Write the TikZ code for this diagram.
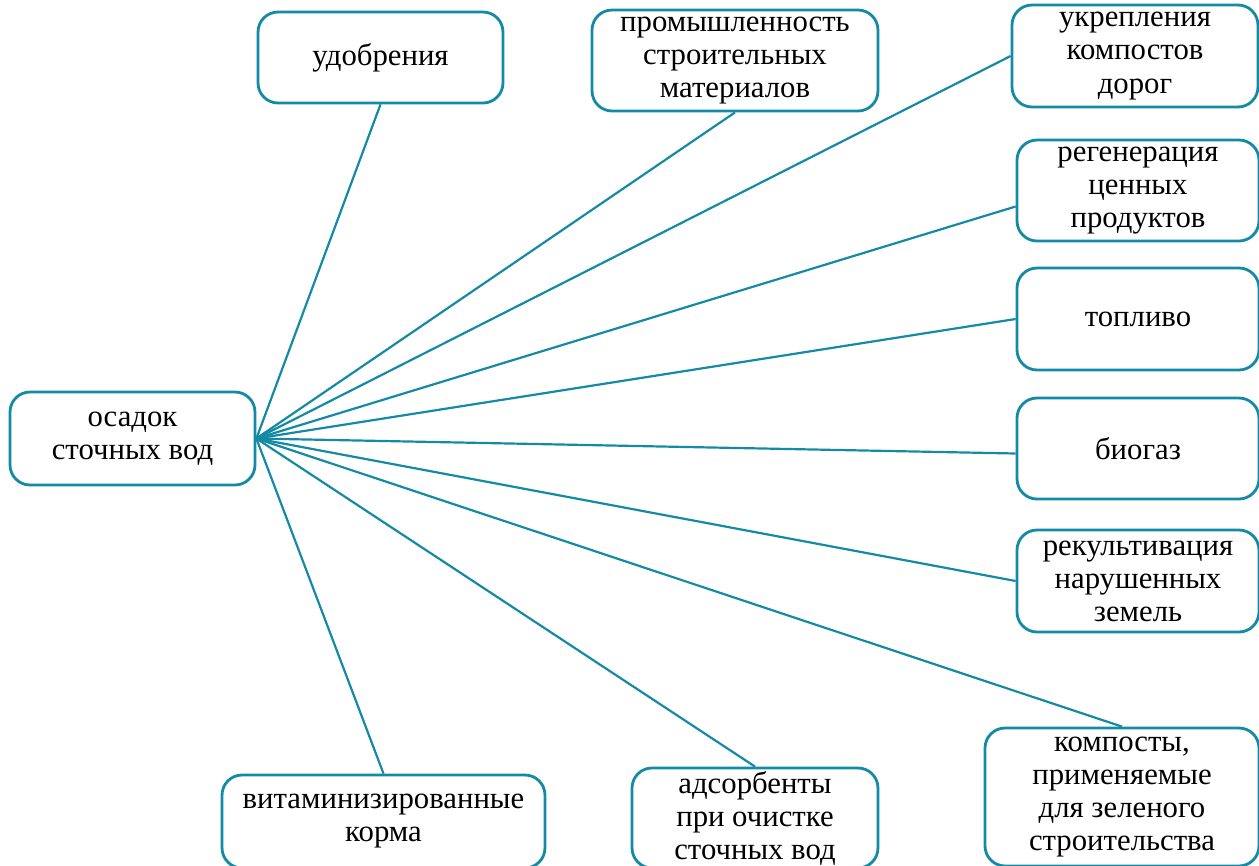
\documentclass[tikz,border=0pt]{standalone}
\usepackage{fontspec}
\setmainfont{Liberation Serif}
\definecolor{sludgeteal}{RGB}{20,138,164}

\begin{document}
\begin{tikzpicture}[x=0.02cm,y=-0.02cm,
    usebox/.style={draw=sludgeteal,line width=1.6pt,rounded corners=0.4cm,align=center,
      inner sep=0pt,font=\fontsize{17.5}{18.8}\selectfont},
    spoke/.style={draw=sludgeteal,line width=1.25pt}]
  \useasboundingbox (0,0) rectangle (1259,866);
  % source box and the uses around it
  \node[usebox,minimum width=4.9cm,minimum height=1.86cm] (sludge) at (132.5,438.5) {осадок\\сточных вод};
  \node[usebox,minimum width=4.9cm,minimum height=1.82cm] (fert) at (380.5,57.5) {удобрения};
  \node[usebox,minimum width=5.72cm,minimum height=2.02cm] (build) at (735,60.5) {промышленность\\строительных\\материалов};
  \node[usebox,minimum width=4.92cm,minimum height=2.04cm] (roads) at (1135,56) {укрепления\\компостов\\дорог};
  \node[usebox,minimum width=4.84cm,minimum height=2.02cm] (regen) at (1138,190.5) {регенерация\\ценных\\продуктов};
  \node[usebox,minimum width=4.84cm,minimum height=2.04cm] (fuel) at (1138,319) {топливо};
  \node[usebox,minimum width=4.84cm,minimum height=2.02cm] (biogas) at (1138,448.5) {биогаз};
  \node[usebox,minimum width=4.84cm,minimum height=2.04cm] (recult) at (1138,581) {рекультивация\\нарушенных\\земель};
  \node[usebox,minimum width=5.48cm,minimum height=2.76cm] (compost) at (1122,797) {компосты,\\применяемые\\для зеленого\\строительства};
  \node[usebox,minimum width=6.46cm,minimum height=1.86cm] (feed) at (383.5,821.5) {витаминизированные\\корма};
  \node[usebox,minimum width=4.92cm,minimum height=2.0cm] (sorb) at (755,818) {адсорбенты\\при очистке\\сточных вод};
  % spokes
  \coordinate (hub) at (sludge.east);
  \draw[spoke] (hub) -- (fert.south);
  \draw[spoke] (hub) -- (build.south);
  \draw[spoke] (hub) -- (roads.west);
  \draw[spoke] (hub) -- ([yshift=-0.32cm]regen.west);
  \draw[spoke] (hub) -- (fuel.west);
  \draw[spoke] (hub) -- ([yshift=-0.1cm]biogas.west);
  \draw[spoke] (hub) -- (recult.west);
  \draw[spoke] (hub) -- (compost.north);
  \draw[spoke] (hub) -- (feed.north);
  \draw[spoke] (hub) -- (sorb.north);
\end{tikzpicture}
\end{document}
